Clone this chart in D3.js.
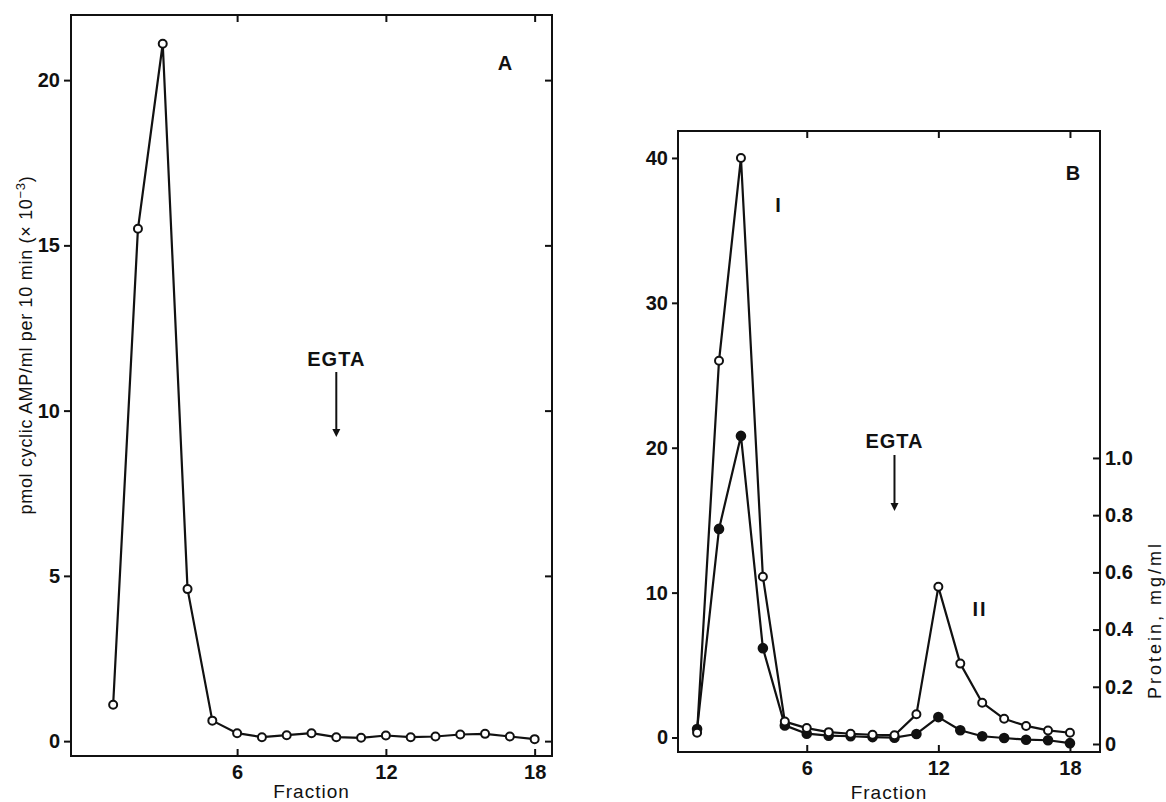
<!DOCTYPE html>
<html>
<head>
<meta charset="utf-8">
<script src="https://cdn.jsdelivr.net/npm/d3@7"></script>
<style>
  body { margin: 0; background: #fff; }
  text { font-family: "Liberation Sans", Arial, sans-serif; fill: #111; }
  .tick text { font-weight: bold; font-size: 20px; }
  .tick line { stroke: #111; stroke-width: 2; }
</style>
</head>
<body>
<div id="chart"></div>
<script>

// fraction numbers (both panels)
var fractions = [1, 2, 3, 4, 5, 6, 7, 8, 9, 10, 11, 12, 13, 14, 15, 16, 17, 18];

// panel A: cyclic AMP activity (x 10^-3)
var cyclicA = [1.1, 15.5, 21.1, 4.6, 0.62, 0.24, 0.12, 0.18, 0.24, 0.12, 0.1, 0.17, 0.12, 0.14, 0.2, 0.22, 0.14, 0.06];

// panel B: cyclic AMP activity (open) and protein (filled)
var cyclicB = [0.33, 26, 40, 11.1, 1.1, 0.65, 0.37, 0.26, 0.19, 0.16, 1.6, 10.4, 5.1, 2.4, 1.29, 0.8, 0.49, 0.33];
var proteinB = [0.052, 0.752, 1.077, 0.335, 0.065, 0.036, 0.029, 0.027, 0.024, 0.022, 0.035, 0.094, 0.048, 0.027, 0.021, 0.015, 0.013, 0.003];

// tick labels
var xTicks = [6, 12, 18];
var yTicksA = [0, 5, 10, 15, 20];
var yTicksB = [0, 10, 20, 30, 40];
var proteinTicks = [0, 0.2, 0.4, 0.6, 0.8, 1.0];

var width = 1166, height = 802;

var svg = d3.select('#chart')
    .append('svg')
    .attr('width', width)
    .attr('height', height);

//scales for panel A
var xA = d3.scaleLinear().domain([-0.7, 18.7]).range([71, 552]);
var yA = d3.scaleLinear().domain([-0.45, 21.97]).range([756, 15]);

//scales for panel B
var xB = d3.scaleLinear().domain([0.13, 19.37]).range([678, 1100]);
var yB = d3.scaleLinear().domain([-1.0, 41.86]).range([752, 131]);
var yP = d3.scaleLinear().domain([-0.028, 2.143]).range([752, 131]);

function frame(x, y) {
    svg.append('rect')
        .attr('x', x.range()[0])
        .attr('y', y.range()[1])
        .attr('width', x.range()[1] - x.range()[0])
        .attr('height', y.range()[0] - y.range()[1])
        .attr('fill', 'none')
        .attr('stroke', '#111')
        .attr('stroke-width', 2);
}

function addAxis(axis, tx, ty) {
    var g = svg.append('g')
        .attr('transform', 'translate(' + tx + ',' + ty + ')')
        .call(axis);
    g.select('.domain').remove();
    return g;
}

function series(x, y, values, filled) {
    var pts = fractions.map(function (f, i) { return [f, values[i]]; });
    var line = d3.line()
        .x(function (d) { return x(d[0]); })
        .y(function (d) { return y(d[1]); });
    svg.append('path')
        .datum(pts)
        .attr('d', line)
        .attr('fill', 'none')
        .attr('stroke', '#111')
        .attr('stroke-width', 2.2)
        .attr('stroke-linejoin', 'round');
    svg.append('g').selectAll('circle')
        .data(pts)
        .enter()
        .append('circle')
        .attr('cx', function (d) { return x(d[0]); })
        .attr('cy', function (d) { return y(d[1]); })
        .attr('r', filled ? 4.3 : 4)
        .attr('fill', filled ? '#111' : '#fff')
        .attr('stroke', '#111')
        .attr('stroke-width', 2);
}

function label(txt, x, y, size, weight) {
    return svg.append('text')
        .attr('x', x).attr('y', y)
        .attr('text-anchor', 'middle')
        .attr('font-size', size)
        .attr('font-weight', weight || 'bold')
        .text(txt);
}

function egta(x, yText, y1, y2) {
    label('EGTA', x, yText, 20).attr('letter-spacing', 1);
    svg.append('line')
        .attr('x1', x).attr('x2', x)
        .attr('y1', y1).attr('y2', y2 - 6)
        .attr('stroke', '#111')
        .attr('stroke-width', 2);
    svg.append('path')
        .attr('d', d3.line()([[x - 4, y2 - 8], [x + 4, y2 - 8], [x, y2]]) + 'Z')
        .attr('fill', '#111');
}

// ---------- Panel A ----------
frame(xA, yA);
addAxis(d3.axisLeft(yA).tickValues(yTicksA).tickSize(7).tickPadding(4).tickFormat(d3.format('d')), xA.range()[0], 0);
addAxis(d3.axisRight(yA).tickValues(yTicksA).tickSize(-7).tickFormat(''), xA.range()[1], 0);
addAxis(d3.axisBottom(xA).tickValues(xTicks).tickSize(-7).tickPadding(9), 0, yA.range()[0]);
addAxis(d3.axisTop(xA).tickValues(xTicks).tickSize(-7).tickFormat(''), 0, yA.range()[1]);

series(xA, yA, cyclicA, false);

label('A', 505, 70, 20);
egta(xA(10), 366, 372, 437);

label('Fraction', (xA.range()[0] + xA.range()[1]) / 2, 798, 19, 'normal').attr('letter-spacing', 1);

var yTitle = svg.append('text')
    .attr('transform', 'translate(32,345) rotate(-90)')
    .attr('text-anchor', 'middle')
    .attr('font-size', 18)
    .attr('letter-spacing', 0.7);
yTitle.append('tspan').text('pmol cyclic AMP/ml per 10 min (× 10');
yTitle.append('tspan').attr('font-size', 13).attr('dy', -7).text('−3');
yTitle.append('tspan').attr('dy', 7).text(')');

// ---------- Panel B ----------
frame(xB, yB);
addAxis(d3.axisLeft(yB).tickValues(yTicksB).tickSize(6).tickPadding(4).tickFormat(d3.format('d')), xB.range()[0], 0);
addAxis(d3.axisRight(yP).tickValues(proteinTicks).tickSize(-7).tickPadding(5)
    .tickFormat(function (d) { return d === 0 ? '0' : d3.format('.1f')(d); }), xB.range()[1], 0);
addAxis(d3.axisBottom(xB).tickValues(xTicks).tickSize(-7).tickPadding(9), 0, yB.range()[0]);
addAxis(d3.axisTop(xB).tickValues(xTicks).tickSize(-7).tickFormat(''), 0, yB.range()[1]);

series(xB, yP, proteinB, true);
series(xB, yB, cyclicB, false);

label('B', 1073, 180, 20);
label('I', 778, 212, 20);
label('II', 980, 616, 20).attr('letter-spacing', 2);
egta(xB(10), 448, 455, 511);

label('Fraction', (xB.range()[0] + xB.range()[1]) / 2, 799, 19, 'normal').attr('letter-spacing', 1);

svg.append('text')
    .attr('transform', 'translate(1161,620) rotate(-90)')
    .attr('text-anchor', 'middle')
    .attr('font-size', 18)
    .attr('letter-spacing', 3)
    .text('Protein, mg/ml');

</script>
</body>
</html>
